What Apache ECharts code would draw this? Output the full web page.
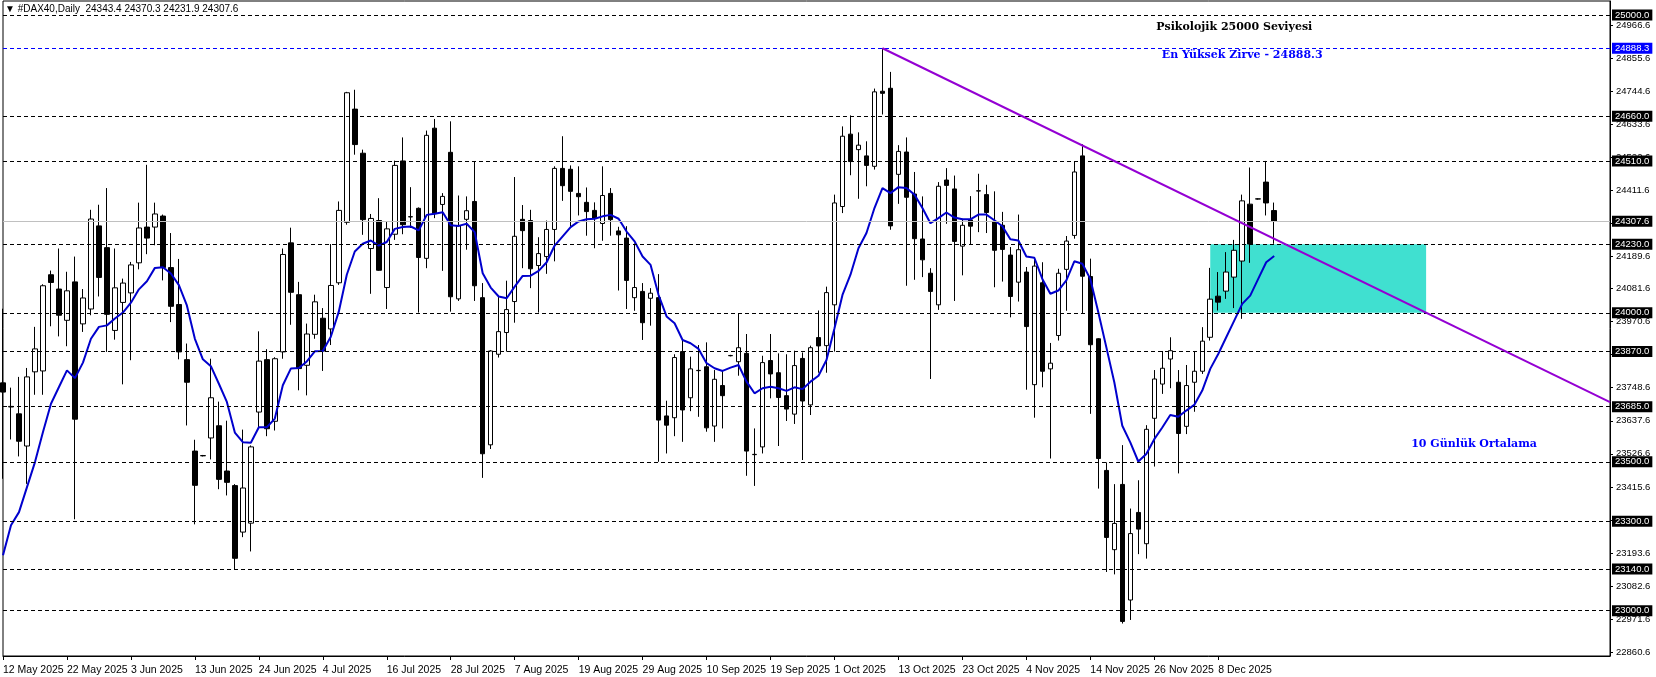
<!DOCTYPE html>
<html>
<head>
<meta charset="utf-8">
<script src="https://cdn.jsdelivr.net/npm/echarts@6/dist/echarts.min.js"></script>
<style>
html,body{margin:0;padding:0;background:#fff;}
#chart{width:1656px;height:677px;}
</style>
</head>
<body>
<div id="chart"></div>
<script>
// ---- data ----
const dateLabels = ['12 May 2025','22 May 2025','3 Jun 2025','13 Jun 2025','24 Jun 2025','4 Jul 2025','16 Jul 2025','28 Jul 2025','7 Aug 2025','19 Aug 2025','29 Aug 2025','10 Sep 2025','19 Sep 2025','1 Oct 2025','13 Oct 2025','23 Oct 2025','4 Nov 2025','14 Nov 2025','26 Nov 2025','8 Dec 2025'];
const barsPerLabel = 8;
const slotCount = 202; // bars + empty right-hand shift

// [open, close, low, high]
const candles = [
[23765,23734,23443,24014],[23684,23686,23575,23749],[23661,23569,23518,23785],[23553,23785,23426,23815],
[23802,23879,23725,23953],[23805,24091,23725,24096],[24128,24102,23955,24142],[24080,23992,23921,24216],
[23975,24074,23888,24138],[24104,23643,23307,24189],[23963,24050,23936,24080],[24013,24315,23992,24346],
[24292,24119,24055,24363],[24219,23995,23869,24419],[23941,24084,23910,24216],[24035,24100,23760,24115],
[24067,24161,23841,24171],[24168,24285,24146,24370],[24288,24251,24197,24497],[24288,24332,24227,24370],
[24325,24152,24109,24330],[24152,24022,23969,24268],[24028,23869,23844,24181],[23843,23767,23622,23897],
[23536,23421,23290,23574],[23520,23521,23518,23523],[23580,23715,23508,23846],[23621,23441,23408,23702],
[23469,23431,23387,23638],[23420,23176,23140,23425],[23264,23412,23247,23608],[23294,23550,23199,23555],
[23667,23838,23616,23938],[23843,23611,23586,23878],[23636,23846,23605,23851],[23869,24196,23846,24216],
[24235,24069,23960,24286],[24061,23813,23740,24104],[23824,23929,23723,23964],[23928,24037,23913,24061],
[23982,23872,23805,24016],[23946,24092,23892,24231],[24101,24344,24094,24374],[24304,24739,24296,24742],
[24684,24565,24531,24749],[24536,24313,24262,24548],[24216,24317,24064,24332],[24310,24143,24141,24385],
[24085,24282,24013,24305],[24264,24495,24245,24511],[24510,24296,24264,24589],[24322,24323,24285,24422],
[24351,24186,24001,24354],[24183,24596,24150,24612],[24620,24333,24318,24651],[24364,24391,24141,24402],
[24539,24054,24004,24643],[24047,24292,24040,24394],[24314,24343,24212,24391],[24374,24091,24040,24509],
[24051,23527,23446,24100],[23557,23872,23543,23875],[23861,23937,23850,24053],[23934,24011,23870,24108],
[24038,24257,23967,24456],[24314,24276,24150,24362],[24310,24148,24083,24346],[24159,24199,24001,24254],
[24189,24280,24131,24310],[24280,24485,24173,24492],[24485,24427,24376,24593],[24482,24408,24290,24495],
[24401,24390,24327,24492],[24371,24340,24259,24421],[24344,24318,24217,24371],[24300,24394,24242,24492],
[24401,24313,24259,24419],[24275,24262,24075,24289],[24251,24109,24013,24291],[24051,24085,24007,24233],
[24072,23967,23909,24100],[24049,24066,23957,24083],[24051,23640,23500,24130],[23654,23623,23528,23705],
[23648,23850,23586,23861],[23870,23674,23567,23907],[23715,23812,23670,23853],[23806,23807,23651,23892],
[23819,23614,23601,23901],[23620,23777,23567,23808],[23756,23722,23612,23808],[23856,23857,23854,23859],
[23836,23883,23789,23999],[23864,23536,23453,23929],[23524,23525,23419,23612],[23550,23833,23528,23856],
[23840,23795,23713,23929],[23799,23716,23553,23864],[23722,23677,23637,23861],[23660,23823,23627,23873],
[23847,23704,23506,23867],[23691,23883,23657,23890],[23917,23889,23799,24008],[23890,24068,23799,24088],
[24027,24369,23870,24397],[24357,24593,24335,24626],[24600,24508,24462,24663],[24548,24563,24383,24606],
[24527,24495,24425,24576],[24492,24742,24481,24753],[24744,24737,24666,24888.3],[24754,24292,24279,24809],
[24465,24542,24366,24563],[24540,24388,24091,24589],[24399,24249,24111,24473],[24248,24178,24120,24391],
[24133,24072,23778,24150],[24027,24425,24010,24439],[24446,24428,24299,24486],[24416,24240,24040,24461],
[24224,24294,24126,24316],[24312,24291,24229,24392],[24409,24410,24271,24467],[24397,24337,24268,24430],
[24307,24210,24086,24408],[24294,24213,24105,24339],[24194,24055,23985,24221],[24103,24212,24038,24330],
[24137,23954,23742,24154],[23759,24157,23648,24187],[24101,23804,23750,24170],[23812,23831,23511,23899],
[23924,24133,23907,24148],[24146,24241,24007,24258],[24260,24473,24249,24509],[24527,24123,23997,24566],
[24122,23893,23661,24182],[23913,23511,23410,23915],[23471,23246,23130,23498],[23205,23293,23122,23425],
[23424,22964,22957,23556],[23036,23259,22969,23343],[23330,23274,23190,23438],[23225,23609,23175,23623],
[23646,23778,23484,23808],[23761,23814,23728,23872],[23845,23873,23747,23918],[23767,23595,23461,23808],
[23619,23756,23593,23825],[23767,23804,23668,23872],[23804,23905,23795,23952],[23918,24046,23907,24151],
[24056,24036,24008,24137],[24073,24137,24047,24204],[24120,24210,24016,24245],[24174,24376,23980,24397],
[24365,24231,24168,24488],[24382,24383,24380,24385],[24439,24369,24327,24510],[24343.4,24307.6,24231.9,24370.3]
];

// 10-day average as drawn
const ma10 = [
23186,23287,23331,23415,23499,23600,23695,23751,23807,23781,23833,23913,23953,23958,23981,24001,24034,24079,24106,24151,
24153,24132,24093,24025,23913,23844,23821,23762,23701,23598,23566,23564,23616,23616,23645,23757,23813,23815,23837,23871,
23872,23920,24004,24128,24206,24232,24243,24226,24238,24282,24288,24290,24277,24329,24333,24338,24294,24292,24299,24271,
24133,24085,24055,24049,24088,24124,24125,24141,24170,24226,24257,24288,24307,24314,24316,24324,24329,24316,24273,24240,
24189,24161,24060,23988,23965,23909,23898,23879,23831,23814,23805,23816,23825,23769,23730,23747,23752,23747,23738,23750,
23744,23769,23789,23842,23948,24060,24128,24217,24268,24352,24419,24402,24422,24419,24397,24352,24301,24318,24337,24320,
24314,24314,24330,24330,24311,24291,24247,24243,24189,24185,24114,24064,24075,24109,24173,24165,24114,24002,23885,23767,
23621,23565,23501,23526,23576,23615,23657,23651,23672,23691,23739,23812,23862,23918,23974,24030,24058,24114,24170,24191
];

const yTickValues = [24966.6,24855.6,24744.6,24633.6,24522.6,24411.6,24300.6,24189.6,24081.6,23970.6,23859.6,23748.6,23637.6,23526.6,23415.6,23304.6,23193.6,23082.6,22971.6,22860.6];
const keyLevels = [25000,24660,24510,24230,24000,23870,23685,23500,23300,23140,23000];
const peakLevel = 24888.3;
const bidLevel = 24307.6;
const trendStart = [110, 24888.3];
const trendEnd = [201, 23700];
const zoneBars = [151, 178];
const zonePrices = [24230, 24000];
const notes = [
  {text:'Psikolojik 25000 Seviyesi', bar:154, price:24960, color:'#000000'},
  {text:'En Yüksek Zirve - 24888.3', bar:155, price:24866, color:'#0000ff'},
  {text:'10 Günlük Ortalama', bar:184, price:23560, color:'#0000ff'}
];
const header = '\u25BC #DAX40,Daily  24343.4 24370.3 24231.9 24307.6';

// ---- chart ----
const categories = [];
for (let i = 0; i < slotCount; i++) categories.push(String(i));

const sans = 'Liberation Sans, Arial, sans-serif';
const labelInterval = function (idx) { return idx % barsPerLabel === 0 && idx / barsPerLabel < dateLabels.length; };

const levelLabel = function (bg) {
  return {show:true, position:'end', distance:2, formatter:function(p){return Number(p.value).toFixed(1);},
          color:'#fff', backgroundColor:bg, padding:[1,3,0,3], fontSize:9.5, fontFamily:sans};
};
const levelLines = keyLevels.map(function (v) {
  return {yAxis:v, lineStyle:{color:'#000', type:[4,3], width:1}, label:levelLabel('#000')};
});
levelLines.push({yAxis:peakLevel, lineStyle:{color:'#0000ff', type:[4,3], width:1}, label:levelLabel('#0000ff')});
levelLines.push({yAxis:bidLevel, lineStyle:{color:'#c0c0c0', type:'solid', width:1}, label:levelLabel('#000')});

const option = {
  animation:false,
  backgroundColor:'#ffffff',
  title:{text:header, left:5, top:4, padding:0,
         textStyle:{fontSize:10, fontWeight:'normal', color:'#000', fontFamily:sans}},
  grid:{left:3, right:46, top:1, bottom:21, show:true, borderColor:'#000', borderWidth:1, backgroundColor:'transparent'},
  xAxis:{
    type:'category', data:categories, boundaryGap:false,
    axisLine:{lineStyle:{color:'#000', width:1}},
    axisTick:{interval:labelInterval, length:4, lineStyle:{color:'#000'}},
    axisLabel:{interval:labelInterval, align:'left', margin:9, fontSize:10.5, color:'#000', fontFamily:sans,
      formatter:function(v){ return dateLabels[Number(v)/barsPerLabel] || ''; }},
    splitLine:{show:false}
  },
  yAxis:{
    type:'value', position:'right', min:22848, max:25047, scale:true,
    axisLine:{show:true, lineStyle:{color:'#000', width:1}},
    axisTick:{show:true, customValues:yTickValues, length:3, lineStyle:{color:'#000'}},
    axisLabel:{customValues:yTickValues, margin:6, fontSize:9.5, color:'#000', fontFamily:sans,
      formatter:function(v){ return Number(v).toFixed(1); }},
    splitLine:{show:false}
  },
  series:[
    {
      name:'levels', type:'line', data:[], z:1, silent:true,
      markArea:{silent:true, itemStyle:{color:'#40E0D0', opacity:1},
        data:[[{coord:[zoneBars[0], zonePrices[0]]},{coord:[zoneBars[1], zonePrices[1]]}]]},
      markLine:{silent:true, symbol:['none','none'], animation:false, data:levelLines}
    },
    {
      name:'DAX40', type:'candlestick', data:candles, z:3, barWidth:5,
      itemStyle:{color:'#ffffff', color0:'#000000', borderColor:'#000000', borderColor0:'#000000', borderWidth:1}
    },
    {
      name:'MA10', type:'line', data:ma10, z:4, symbol:'none', smooth:false,
      lineStyle:{color:'#0000CD', width:2}
    },
    {
      name:'trend', type:'line', data:[], z:5, silent:true,
      markLine:{silent:true, symbol:['none','none'], animation:false,
        lineStyle:{color:'#9400D3', width:2, type:'solid'}, label:{show:false},
        data:[[{coord:trendStart},{coord:trendEnd}]]},
      markPoint:{silent:true, symbol:'circle', symbolSize:1, itemStyle:{color:'transparent'},
        data:notes.map(function(n){
          return {name:n.text, coord:[n.bar, n.price],
            label:{show:true, position:'inside', formatter:'{b}', color:n.color, fontSize:11, fontWeight:'bold',
                   fontFamily:'DejaVu Serif, Liberation Serif, serif'}};
        })}
    }
  ]
};

const chart = echarts.init(document.getElementById('chart'), null, {renderer:'canvas'});
chart.setOption(option);
</script>
</body>
</html>
